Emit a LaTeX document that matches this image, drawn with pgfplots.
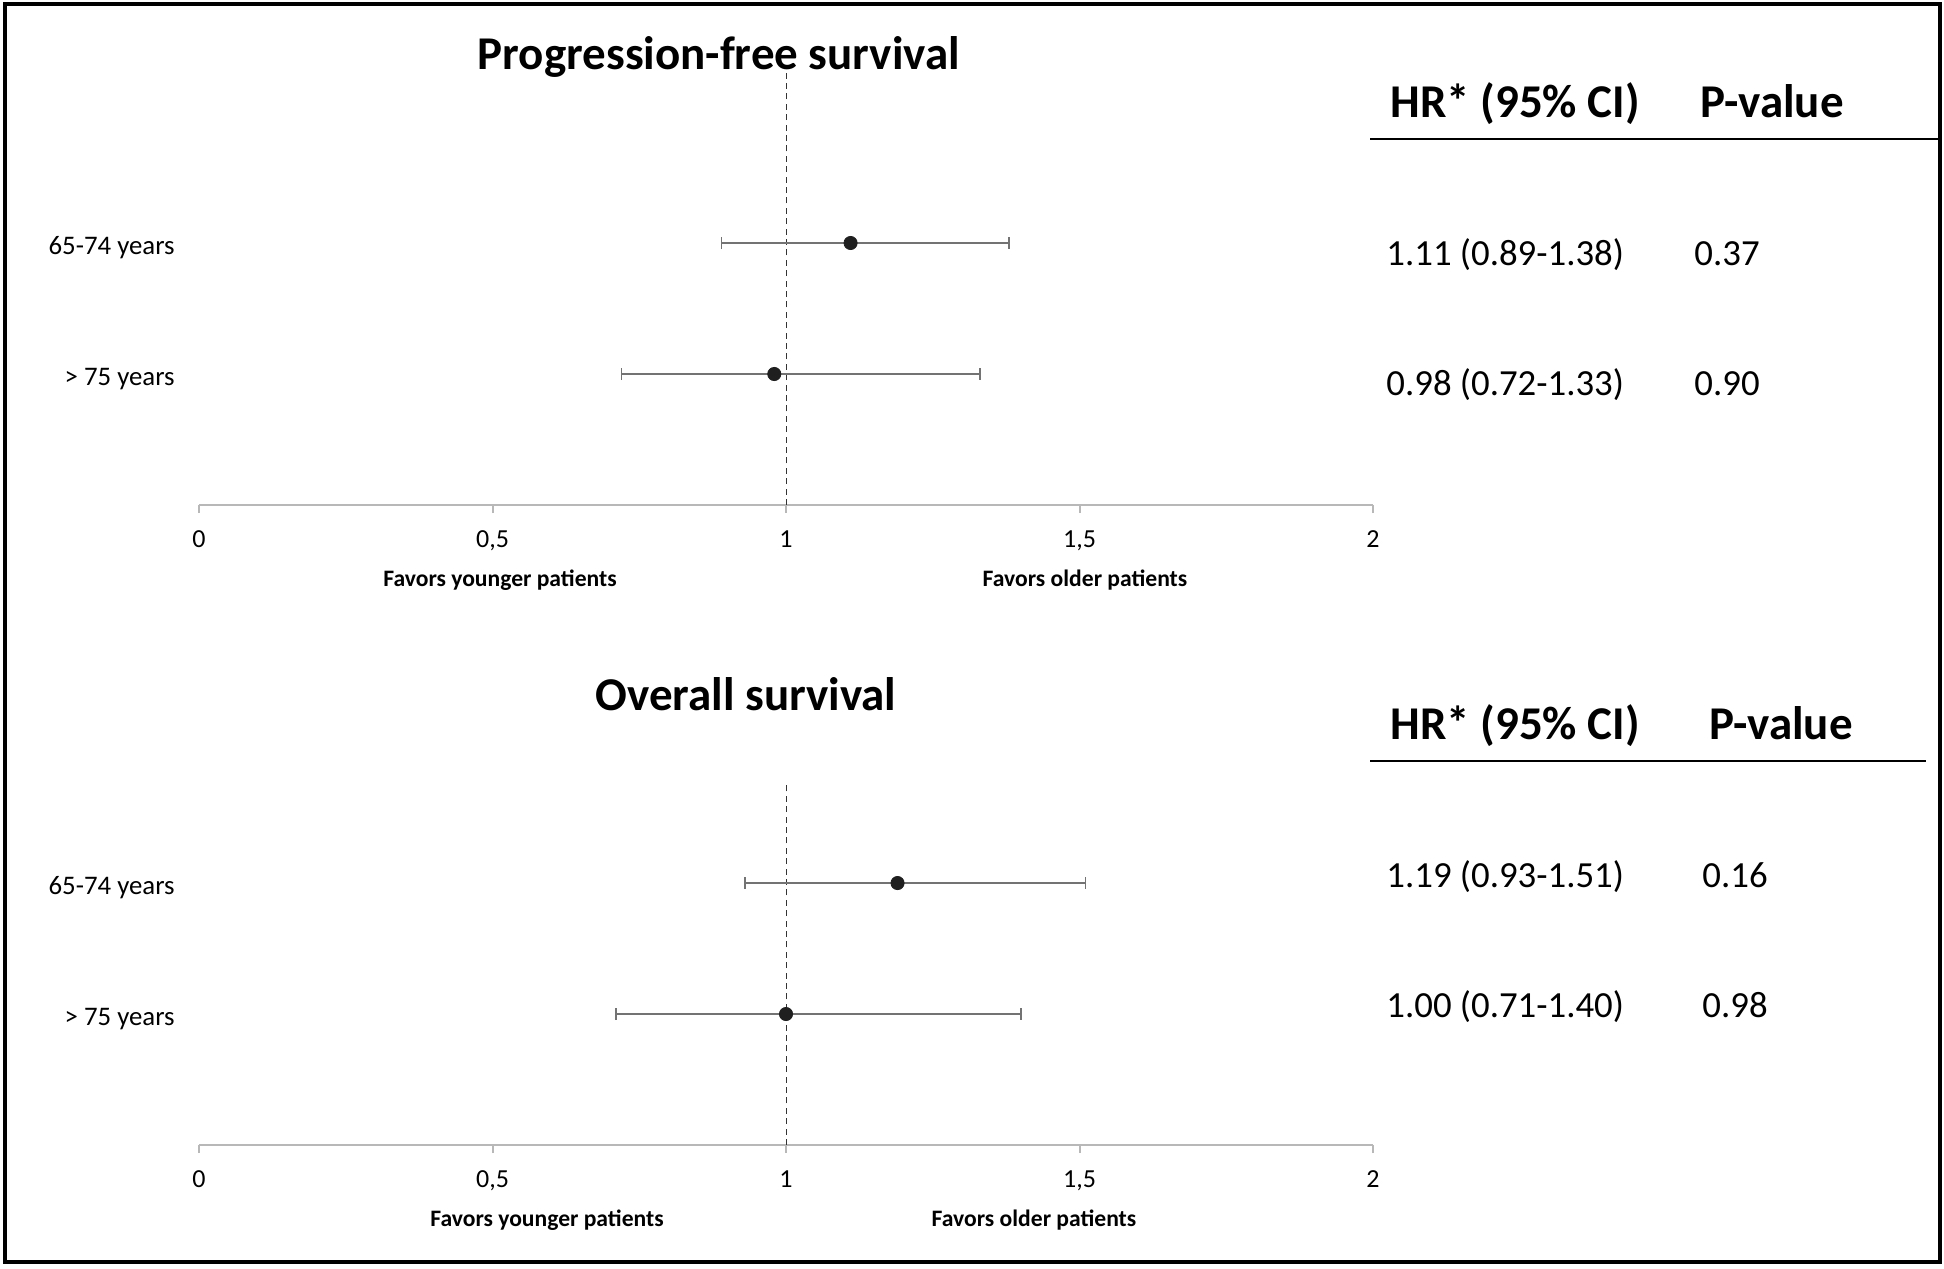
\documentclass[border=0pt]{standalone}
\usepackage{fontspec}
\setmainfont{Carlito}
\usepackage{pgfplots}
\usepackage{pgfplotstable}
\pgfplotsset{compat=1.18}

\newcommand\fs[1]{\fontsize{#1}{#1}\selectfont}

% hazard ratios: row 2 = 65-74 years, row 1 = > 75 years
\pgfplotstableread{
row hr   lo   hi
2   1.11 0.89 1.38
1   0.98 0.72 1.33
}\pfs
\pgfplotstableread{
row hr   lo   hi
2   1.19 0.93 1.51
1   1.00 0.71 1.40
}\os

\pgfplotsset{
  forest/.style={
    anchor=south west, scale only axis, width=587pt,
    xmin=0, xmax=2, ymin=0, enlargelimits=false,
    axis x line=bottom, axis y line=left,
    x axis line style={draw=black!28, line width=1pt, -},
    y axis line style={draw=none},
    xtick={0,0.5,1,1.5,2}, xticklabels={0,{0,5},1,{1,5},2},
    xtick style={draw=black!28, line width=1pt},
    tick align=outside, major tick length=4pt,
    xticklabel style={font=\fs{13pt}, anchor=base, inner sep=0pt, yshift=-17pt},
    ytick={1,2}, yticklabels={{> 75 years},{65-74 years}},
    ytick style={draw=none},
    yticklabel style={font=\fs{13.4pt}, anchor=base east, inner sep=0pt, xshift=-8pt, yshift=-5.5pt},
    clip=false,
  },
  hrplot/.style={
    only marks, mark=*, mark size=3.3pt, mark options={black!88, draw=black!88},
    error bars/.cd, x dir=both, x explicit,
    error bar style={black!55, line width=0.8pt},
    error mark options={black!55, line width=0.8pt, mark size=3pt, rotate=90},
  },
}

\begin{document}
\begin{tikzpicture}
\useasboundingbox (0,0) rectangle (972pt,-634.5pt);

% Progression-free survival
\begin{axis}[forest, at={(99.5pt,-252.5pt)}, height=216.15pt, ymax=3.3]
\addplot[black!80, line width=0.5pt, dash pattern=on 3pt off 2.2pt] coordinates {(1,0) (1,3.3)};
\addplot[hrplot] table[x=hr, y=row,
  x error plus expr=\thisrow{hi}-\thisrow{hr},
  x error minus expr=\thisrow{hr}-\thisrow{lo}] {\pfs};
\end{axis}

% Overall survival
\begin{axis}[forest, at={(99.5pt,-572.5pt)}, height=180.1pt, ymax=2.75]
\addplot[black!80, line width=0.5pt, dash pattern=on 3pt off 2.2pt] coordinates {(1,0) (1,2.75)};
\addplot[hrplot] table[x=hr, y=row,
  x error plus expr=\thisrow{hi}-\thisrow{hr},
  x error minus expr=\thisrow{hr}-\thisrow{lo}] {\os};
\end{axis}

\begin{scope}[x=0.5pt, y=-0.5pt]
\draw[line width=2pt] (4.5,4) rectangle (1940,1262);

% top panel text
\node[anchor=base, inner sep=0, font=\bfseries\fs{23.5pt}] at (719,69) {Progression-free survival};
\node[anchor=base, inner sep=0, font=\bfseries\fs{11.8pt}] at (500,586) {Favors younger patients};
\node[anchor=base, inner sep=0, font=\bfseries\fs{11.8pt}] at (1085,586) {Favors older patients};
\node[anchor=base west, inner sep=0, font=\bfseries\fs{23.5pt}] at (1390,117) {HR* (95\% CI)};
\node[anchor=base west, inner sep=0, font=\bfseries\fs{23.5pt}] at (1700,117) {P-value};
\draw[line width=1pt] (1370,139) -- (1940,139);
\node[anchor=base west, inner sep=0, font=\fs{18.4pt}] at (1386,265) {1.11 (0.89-1.38)};
\node[anchor=base west, inner sep=0, font=\fs{18.4pt}] at (1694,265) {0.37};
\node[anchor=base west, inner sep=0, font=\fs{18.4pt}] at (1386,395) {0.98 (0.72-1.33)};
\node[anchor=base west, inner sep=0, font=\fs{18.4pt}] at (1694,395) {0.90};

% bottom panel text
\node[anchor=base, inner sep=0, font=\bfseries\fs{23.5pt}] at (746,710) {Overall survival};
\node[anchor=base, inner sep=0, font=\bfseries\fs{11.8pt}] at (547,1226) {Favors younger patients};
\node[anchor=base, inner sep=0, font=\bfseries\fs{11.8pt}] at (1034,1226) {Favors older patients};
\node[anchor=base west, inner sep=0, font=\bfseries\fs{23.5pt}] at (1390,739) {HR* (95\% CI)};
\node[anchor=base west, inner sep=0, font=\bfseries\fs{23.5pt}] at (1709,739) {P-value};
\draw[line width=1pt] (1370,761) -- (1926,761);
\node[anchor=base west, inner sep=0, font=\fs{18.4pt}] at (1386,887) {1.19 (0.93-1.51)};
\node[anchor=base west, inner sep=0, font=\fs{18.4pt}] at (1702,887) {0.16};
\node[anchor=base west, inner sep=0, font=\fs{18.4pt}] at (1386,1017) {1.00 (0.71-1.40)};
\node[anchor=base west, inner sep=0, font=\fs{18.4pt}] at (1702,1017) {0.98};
\end{scope}
\end{tikzpicture}
\end{document}
